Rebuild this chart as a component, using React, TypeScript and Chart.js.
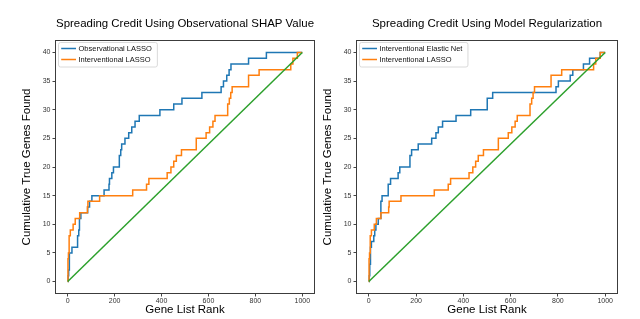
import React, { useEffect, useRef } from 'react';
import { Chart, registerables } from 'chart.js';

Chart.register(...registerables);

const FONT = "'Liberation Sans', Arial, Helvetica, sans-serif";
const BLUE = '#1f77b4';
const ORANGE = '#ff7f0e';
const GREEN = '#2ca02c';

// tick labels
const xTicks = [0, 200, 400, 600, 800, 1000];
const yTicks = [0, 5, 10, 15, 20, 25, 30, 35, 40];

// titles / labels
const leftTitle = 'Spreading Credit Using Observational SHAP Value';
const rightTitle = 'Spreading Credit Using Model Regularization';
const xLabel = 'Gene List Rank';
const yLabel = 'Cumulative True Genes Found';

// Observational LASSO (left, blue): rank where cumulative count steps up
const obsLassoRank = [0, 2, 4, 7, 18, 42, 47, 50, 56, 85, 93, 103, 155, 176, 178, 188, 195, 220, 226, 230, 244, 260, 273, 287, 305, 393, 452, 487, 572, 654, 664, 678, 688, 696, 771, 847, 1000];
const obsLassoCount = [0, 1, 2, 5, 6, 8, 9, 11, 12, 13, 14, 15, 16, 17, 18, 19, 20, 22, 23, 24, 25, 26, 27, 28, 29, 30, 31, 32, 33, 34, 35, 36, 37, 38, 39, 40, 40];

// Interventional LASSO (both panels, orange)
const intLassoRank = [0, 1, 3, 6, 11, 23, 32, 51, 84, 86, 136, 277, 336, 346, 424, 440, 452, 463, 485, 548, 590, 605, 619, 628, 682, 689, 695, 701, 771, 816, 951, 960, 979, 1000];
const intLassoCount = [0, 4, 5, 8, 9, 10, 11, 12, 13, 14, 15, 16, 17, 18, 19, 20, 21, 22, 23, 25, 26, 27, 28, 29, 31, 32, 33, 34, 36, 37, 38, 39, 40, 40];

// Interventional Elastic Net (right, blue)
const elasticNetRank = [0, 2, 4, 7, 11, 21, 25, 30, 40, 51, 56, 82, 92, 124, 131, 174, 181, 209, 266, 284, 294, 312, 369, 431, 501, 524, 792, 802, 852, 863, 908, 934, 979, 1000];
const elasticNetCount = [0, 1, 3, 6, 7, 8, 9, 10, 11, 14, 15, 17, 18, 19, 20, 22, 23, 24, 25, 26, 27, 28, 29, 30, 32, 33, 34, 35, 36, 37, 38, 39, 40, 40];

// random baseline (green)
const randomRank = [0, 1000];
const randomCount = [0, 40];

const toPoints = (xs: number[], ys: number[]) => xs.map((x, i) => ({ x, y: ys[i] }));

const framePlugin = {
  id: 'frame',
  afterDatasetsDraw(chart: any) {
    const { ctx, chartArea } = chart;
    ctx.save();
    ctx.strokeStyle = '#3c3c3c';
    ctx.lineWidth = 1;
    const l = Math.round(chartArea.left) - 0.5;
    const t = Math.round(chartArea.top) - 0.5;
    const r = Math.round(chartArea.right) + 0.5;
    const b = Math.round(chartArea.bottom) + 0.5;
    ctx.strokeRect(l, t, r - l, b - t);
    ctx.restore();
  },
};

const legendPlugin = {
  id: 'insideLegend',
  afterDatasetsDraw(chart: any) {
    const { ctx, chartArea } = chart;
    const items = chart.data.datasets.filter((d: any) => d.label);
    ctx.save();
    ctx.font = `7.5px ${FONT}`;
    const bx = chartArea.left + 2.5;
    const by = chartArea.top + 1.5;
    const textX = bx + 20;
    const tw = Math.max(...items.map((d: any) => ctx.measureText(d.label).width));
    const bw = textX + tw + 5.5 - bx;
    const bh = 24.5;
    const rad = 2;
    ctx.beginPath();
    ctx.moveTo(bx + rad, by);
    ctx.lineTo(bx + bw - rad, by);
    ctx.arcTo(bx + bw, by, bx + bw, by + rad, rad);
    ctx.lineTo(bx + bw, by + bh - rad);
    ctx.arcTo(bx + bw, by + bh, bx + bw - rad, by + bh, rad);
    ctx.lineTo(bx + rad, by + bh);
    ctx.arcTo(bx, by + bh, bx, by + bh - rad, rad);
    ctx.lineTo(bx, by + rad);
    ctx.arcTo(bx, by, bx + rad, by, rad);
    ctx.closePath();
    ctx.fillStyle = 'rgba(255,255,255,0.8)';
    ctx.fill();
    ctx.strokeStyle = '#d0d0d0';
    ctx.lineWidth = 0.8;
    ctx.stroke();
    items.forEach((d: any, i: number) => {
      const y = by + 6 + i * 11;
      ctx.beginPath();
      ctx.moveTo(bx + 2.7, y);
      ctx.lineTo(bx + 17.5, y);
      ctx.strokeStyle = d.borderColor;
      ctx.lineWidth = 1.5;
      ctx.stroke();
      ctx.fillStyle = '#111';
      ctx.textBaseline = 'middle';
      ctx.textAlign = 'left';
      ctx.fillText(d.label, textX, y + 0.5);
    });
    ctx.restore();
  },
};

function makeConfig(title: string, blueLabel: string, blueData: any[], yWidth: number, padRight: number, yTitlePad: number): any {
  const lineBase = { pointRadius: 0, borderWidth: 1.5, fill: false, tension: 0 };
  const plain = (v: any) => String(v);
  return {
    type: 'line',
    data: {
      datasets: [
        { ...lineBase, label: blueLabel, data: blueData, borderColor: BLUE, stepped: true, order: 3 },
        { ...lineBase, label: 'Interventional LASSO', data: toPoints(intLassoRank, intLassoCount), borderColor: ORANGE, stepped: true, order: 2 },
        { ...lineBase, label: '', data: toPoints(randomRank, randomCount), borderColor: GREEN, order: 1 },
      ],
    },
    options: {
      animation: false,
      responsive: false,
      devicePixelRatio: 1,
      events: [],
      layout: { padding: { left: 0, right: padRight, top: 0, bottom: 0 } },
      plugins: {
        legend: { display: false },
        tooltip: { enabled: false },
        title: {
          display: true,
          text: title,
          fullSize: false,
          color: '#000',
          font: { family: FONT, size: 11.5, weight: 'normal' },
          padding: { top: 17.2, bottom: 10 },
        },
      },
      scales: {
        x: {
          type: 'linear',
          min: -50,
          max: 1050,
          afterBuildTicks: (s: any) => { s.ticks = xTicks.map((v) => ({ value: v })); },
          afterFit: (s: any) => { s.height = 26; },
          grid: { display: true, drawOnChartArea: false, drawTicks: true, tickLength: 3.5, tickColor: '#444', lineWidth: 1 },
          border: { display: false },
          ticks: { font: { family: FONT, size: 7 }, color: '#333', padding: 0.5, maxRotation: 0, callback: plain },
          title: { display: true, text: xLabel, color: '#000', font: { family: FONT, size: 11.5 }, padding: { top: 0, bottom: 2 } },
        },
        y: {
          type: 'linear',
          min: -2,
          max: 42,
          afterBuildTicks: (s: any) => { s.ticks = yTicks.map((v) => ({ value: v })); },
          afterFit: (s: any) => { s.width = yWidth; },
          grid: { display: true, drawOnChartArea: false, drawTicks: true, tickLength: 3.5, tickColor: '#444', lineWidth: 1 },
          border: { display: false },
          ticks: { font: { family: FONT, size: 7 }, color: '#333', padding: 2, callback: plain },
          title: { display: true, text: yLabel, color: '#000', font: { family: FONT, size: 11.5 }, padding: { top: yTitlePad, bottom: 0 } },
        },
      },
    },
    plugins: [framePlugin, legendPlugin],
  };
}

export default function App() {
  const leftRef = useRef<HTMLCanvasElement>(null);
  const rightRef = useRef<HTMLCanvasElement>(null);

  useEffect(() => {
    document.body.style.margin = '0';
    const left = new Chart(leftRef.current as HTMLCanvasElement,
      makeConfig(leftTitle, 'Observational LASSO', toPoints(obsLassoRank, obsLassoCount), 56, 6, 20));
    const right = new Chart(rightRef.current as HTMLCanvasElement,
      makeConfig(rightTitle, 'Interventional Elastic Net', toPoints(elasticNetRank, elasticNetCount), 37, 23, 1));
    return () => {
      left.destroy();
      right.destroy();
    };
  }, []);

  return (
    <div style={{ position: 'fixed', left: 0, top: 0, width: 640, height: 319, background: '#fff', overflow: 'hidden' }}>
      <canvas ref={leftRef} width={320} height={319} style={{ position: 'absolute', left: 0, top: 0 }} />
      <canvas ref={rightRef} width={320} height={319} style={{ position: 'absolute', left: 320, top: 0 }} />
    </div>
  );
}
